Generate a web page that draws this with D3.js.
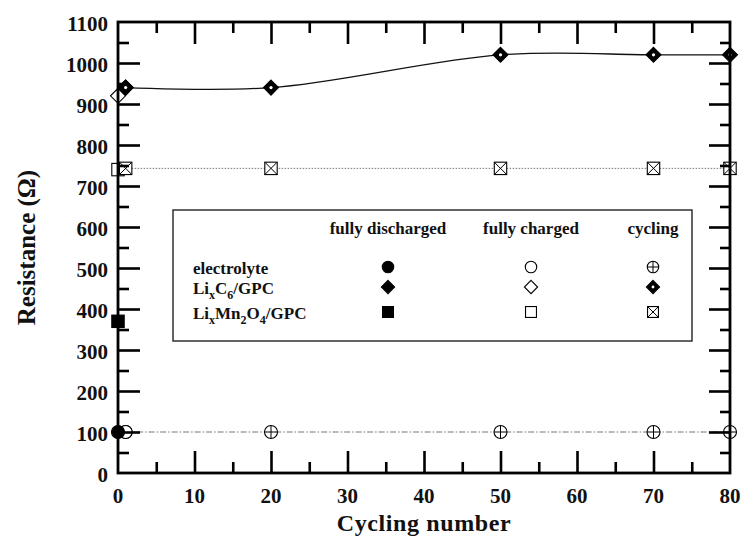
<!DOCTYPE html>
<html lang="en">
<head>
<meta charset="UTF-8">
<script src="https://d3js.org/d3.v7.min.js"></script>
<style>
  body { margin: 0; background: #fff; }
  text { font-family: "Liberation Serif", "Times New Roman", serif; font-weight: bold; fill: #111; }
</style>
</head>
<body>
<div id="chart"></div>
<script>
// Data
const xMajorTicks = [0, 10, 20, 30, 40, 50, 60, 70, 80];
const xMinorTicks = [5, 15, 25, 35, 45, 55, 65, 75];
const yMajorTicks = [0, 100, 200, 300, 400, 500, 600, 700, 800, 900, 1000, 1100];
const yMinorTicks = [50, 150, 250, 350, 450, 550, 650, 750, 850, 950, 1050];

const electrolyteDischarged = [[0, 100]];
const electrolyteCharged = [[1, 100]];
const electrolyteCycling = [[1, 100], [20, 100], [50, 100], [70, 100], [80, 100]];

const carbonDischarged = [[1, 940]];
const carbonCharged = [[0, 920]];
const carbonCycling = [[1, 940], [20, 940], [50, 1020], [70, 1020], [80, 1020]];

const spinelDischarged = [[0, 370]];
const spinelCharged = [[0, 740]];
const spinelCycling = [[1, 743], [20, 743], [50, 743], [70, 743], [80, 743]];

const legendColumns = ["fully discharged", "fully charged", "cycling"];
const legendRows = [
  [{ t: "electrolyte" }],
  [{ t: "Li" }, { t: "x", sub: true }, { t: "C" }, { t: "6", sub: true }, { t: "/GPC" }],
  [{ t: "Li" }, { t: "x", sub: true }, { t: "Mn" }, { t: "2", sub: true }, { t: "O" }, { t: "4", sub: true }, { t: "/GPC" }]
];
const legendMarkers = [
  ["circleFilled", "circleOpen", "circleCross"],
  ["diamondFilled", "diamondOpen", "diamondDot"],
  ["squareFilled", "squareOpen", "squareCross"]
];

const width = 744, height = 537;
const margin = { top: 22, right: 14, bottom: 64, left: 118 };

const svg = d3.select("#chart").append("svg")
  .attr("width", width)
  .attr("height", height);

const x = d3.scaleLinear().domain([0, 80]).range([margin.left, width - margin.right]);
const y = d3.scaleLinear().domain([0, 1100]).range([height - margin.bottom, margin.top]);

// marker drawing
function marker(g, type, cx, cy, s) {
  s = s || 1;
  const r = 6.5 * s, d = 7.5 * s, q = 6.2 * s;
  const diamond = `M${cx},${cy - d}L${cx + d},${cy}L${cx},${cy + d}L${cx - d},${cy}Z`;
  if (type.startsWith("circle")) {
    g.append("circle").attr("cx", cx).attr("cy", cy).attr("r", r)
      .attr("fill", type === "circleFilled" ? "#000" : "#fff")
      .attr("stroke", "#000").attr("stroke-width", 1.1);
    if (type === "circleCross") {
      g.append("path").attr("d", `M${cx - r},${cy}H${cx + r}M${cx},${cy - r}V${cy + r}`)
        .attr("stroke", "#000").attr("stroke-width", 1);
    }
  } else if (type.startsWith("diamond")) {
    g.append("path").attr("d", diamond)
      .attr("fill", type === "diamondOpen" ? "#fff" : "#000")
      .attr("stroke", "#000").attr("stroke-width", 1.1);
    if (type === "diamondDot") {
      g.append("circle").attr("cx", cx).attr("cy", cy).attr("r", 1.6 * s).attr("fill", "#fff");
    }
  } else {
    g.append("rect").attr("x", cx - q).attr("y", cy - q).attr("width", 2 * q).attr("height", 2 * q)
      .attr("fill", type === "squareFilled" ? "#000" : "#fff")
      .attr("stroke", "#000").attr("stroke-width", 1.1);
    if (type === "squareCross") {
      g.append("path").attr("d", `M${cx - q},${cy - q}L${cx + q},${cy + q}M${cx + q},${cy - q}L${cx - q},${cy + q}`)
        .attr("stroke", "#000").attr("stroke-width", 1);
    }
  }
}

// reference lines
const line = d3.line().x(d => x(d[0])).y(d => y(d[1]));

svg.append("path")
  .attr("d", line(electrolyteCycling))
  .attr("fill", "none").attr("stroke", "#777").attr("stroke-width", 1)
  .attr("stroke-dasharray", "6,2,1.5,2");

svg.append("path")
  .attr("d", line(spinelCycling))
  .attr("fill", "none").attr("stroke", "#777").attr("stroke-width", 1)
  .attr("stroke-dasharray", "1.5,1.5");

svg.append("path")
  .attr("d", line.curve(d3.curveCatmullRom.alpha(0.5))(carbonCycling))
  .attr("fill", "none").attr("stroke", "#111").attr("stroke-width", 1.3);

// legend box
const lg = svg.append("g");
lg.append("rect")
  .attr("x", 173).attr("y", 210).attr("width", 519).attr("height", 131)
  .attr("fill", "#fff").attr("stroke", "#222").attr("stroke-width", 1.4);

const colX = [388, 531, 653];
const rowY = [274, 294, 319];

lg.selectAll("text.head")
  .data(legendColumns)
  .join("text")
  .attr("class", "head")
  .attr("x", (d, i) => colX[i])
  .attr("y", 234)
  .attr("text-anchor", "middle")
  .attr("font-size", 17)
  .text(d => d);

legendRows.forEach((parts, i) => {
  const t = lg.append("text").attr("x", 193).attr("y", rowY[i]).attr("font-size", 17);
  parts.forEach((p, j) => {
    const prevSub = j > 0 && parts[j - 1].sub;
    t.append("tspan")
      .attr("font-size", p.sub ? 12 : 17)
      .attr("dy", p.sub ? 5 : (prevSub ? -5 : 0))
      .text(p.t);
  });
  legendMarkers[i].forEach((m, j) => {
    marker(lg, m, colX[j], rowY[i] - 7, 0.88);
  });
});

// data markers
const markers = svg.append("g");
const series = [
  [electrolyteCycling, "circleCross"],
  [electrolyteCharged, "circleOpen"],
  [electrolyteDischarged, "circleFilled"],
  [carbonCharged, "diamondOpen"],
  [carbonDischarged, "diamondFilled"],
  [carbonCycling, "diamondDot"],
  [spinelCharged, "squareOpen"],
  [spinelCycling, "squareCross"],
  [spinelDischarged, "squareFilled"]
];
series.forEach(([pts, type]) => {
  pts.forEach(p => marker(markers, type, x(p[0]), y(p[1])));
});

// axes with inward ticks
const x0 = x.range()[0], x1 = x.range()[1];
const y0 = y.range()[0], y1 = y.range()[1];

function ticks(axisFn, scale, values, size, tx, ty) {
  svg.append("g")
    .attr("transform", `translate(${tx},${ty})`)
    .call(axisFn(scale).tickValues(values).tickSize(size).tickFormat(""))
    .call(g => g.select(".domain").remove())
    .call(g => g.selectAll(".tick line").attr("stroke", "#000").attr("stroke-width", 2.6));
}
ticks(d3.axisBottom, x, xMajorTicks.slice(1, -1), -22, 0, y0);
ticks(d3.axisBottom, x, xMinorTicks, -11, 0, y0);
ticks(d3.axisTop, x, xMajorTicks.slice(1, -1), -22, 0, y1);
ticks(d3.axisTop, x, xMinorTicks, -11, 0, y1);
ticks(d3.axisLeft, y, yMajorTicks.slice(1, -1), -22, x0, 0);
ticks(d3.axisLeft, y, yMinorTicks, -11, x0, 0);
ticks(d3.axisRight, y, yMajorTicks.slice(1, -1), -21, x1, 0);
ticks(d3.axisRight, y, yMinorTicks, -10, x1, 0);

svg.append("rect")
  .attr("x", x0).attr("y", y1).attr("width", x1 - x0).attr("height", y0 - y1)
  .attr("fill", "none").attr("stroke", "#000").attr("stroke-width", 2.8);

// tick labels
svg.append("g").selectAll("text")
  .data(xMajorTicks)
  .join("text")
  .attr("x", d => x(d))
  .attr("y", y0 + 30)
  .attr("text-anchor", "middle")
  .attr("font-size", 21)
  .text(d => d);

svg.append("g").selectAll("text")
  .data(yMajorTicks)
  .join("text")
  .attr("x", x0 - 10)
  .attr("y", d => y(d) + 9)
  .attr("text-anchor", "end")
  .attr("font-size", 21)
  .text(d => d);

// axis titles
svg.append("text")
  .attr("x", (x0 + x1) / 2)
  .attr("y", 531)
  .attr("text-anchor", "middle")
  .attr("font-size", 24)
  .attr("letter-spacing", 0.6)
  .text("Cycling number");

svg.append("text")
  .attr("transform", `translate(35,${(y0 + y1) / 2}) rotate(-90)`)
  .attr("text-anchor", "middle")
  .attr("font-size", 25)
  .text("Resistance (Ω)");
</script>
</body>
</html>
